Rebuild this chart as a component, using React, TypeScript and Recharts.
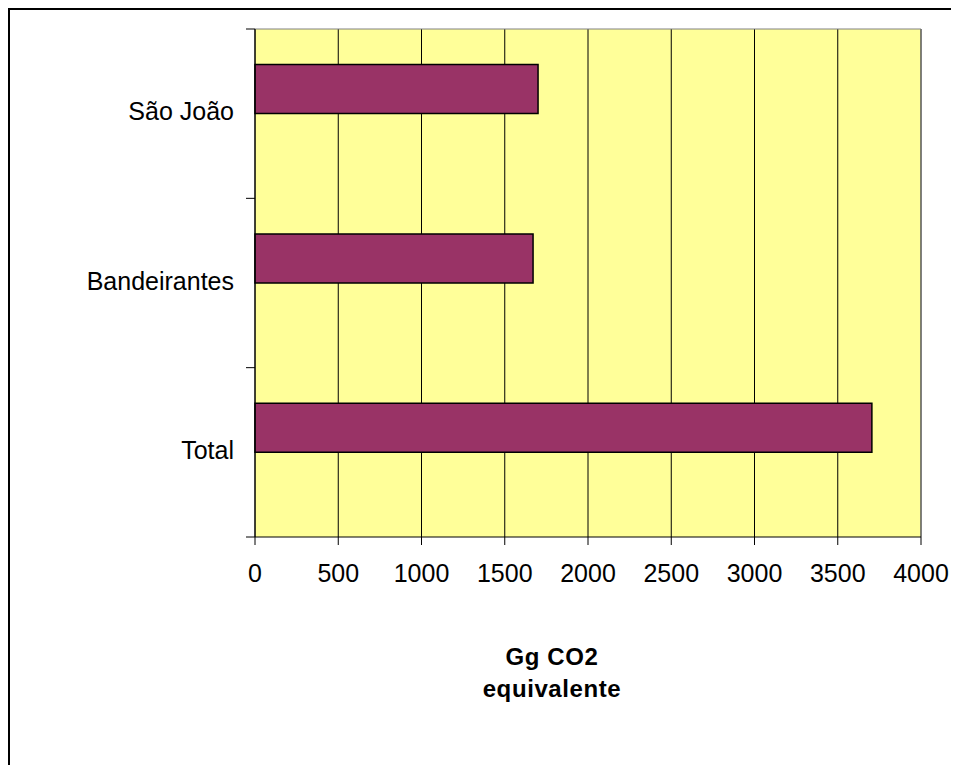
import React from "react";
import {
  BarChart,
  Bar,
  XAxis,
  YAxis,
  CartesianGrid,
  ReferenceLine,
} from "recharts";

// Emission sources, top to bottom
const categories = ["São João", "Bandeirantes", "Total"];
// Emissions in Gg CO2 equivalent
const emissions = [1700, 1670, 3705];
// Value axis ticks
const xTicks = [0, 500, 1000, 1500, 2000, 2500, 3000, 3500, 4000];
const axisTitle = ["Gg CO2", "equivalente"];

const data = categories.map((name, i) => ({
  name,
  value: emissions[i],
  spare: null as number | null,
}));

const FONT = "'Liberation Sans', Arial, sans-serif";
const CHART_W = 951;
const CHART_H = 757;
const MARGIN = { top: 21, right: 38, bottom: 128, left: 0 };
const X_AXIS_H = 100;
const PLOT_H = CHART_H - MARGIN.top - MARGIN.bottom - X_AXIS_H;
const HALF_BAND = PLOT_H / categories.length / 2;
const TICK_LEN = 9;
const TICK_GAP = 12;

// Category label plus tick marks on the band boundaries
const CategoryTick = (props: any) => {
  const { x, y, payload, index } = props;
  const x0 = x + TICK_GAP;
  const isLast = index === categories.length - 1;
  return (
    <g>
      <line x1={x0} x2={x0 + TICK_LEN} y1={y - HALF_BAND} y2={y - HALF_BAND} stroke="#000" strokeWidth={1} />
      {isLast && (
        <line x1={x0} x2={x0 + TICK_LEN} y1={y + HALF_BAND} y2={y + HALF_BAND} stroke="#000" strokeWidth={1} />
      )}
      <text x={x} y={y} dy="0.27em" textAnchor="end" fill="#000" fontSize={25} fontFamily={FONT}>
        {payload.value}
      </text>
    </g>
  );
};

const AxisTitle = (props: any) => {
  const vb = props.viewBox;
  const cx = vb.x + vb.width / 2 - 36;
  return (
    <text textAnchor="middle" fill="#000" fontSize={24} fontWeight="bold" fontFamily={FONT} letterSpacing={0.6}>
      <tspan x={cx} y={vb.y + 128}>{axisTitle[0]}</tspan>
      <tspan x={cx} y={vb.y + 160}>{axisTitle[1]}</tspan>
    </text>
  );
};

export default function App() {
  return (
    <div
      style={{
        position: "relative",
        width: CHART_W,
        height: CHART_H,
        boxSizing: "border-box",
        borderTop: "2px solid #000",
        borderLeft: "2px solid #000",
      }}
    >
      <div style={{ position: "absolute", top: -2, left: -2 }}>
        <BarChart
          width={CHART_W}
          height={CHART_H}
          data={data}
          layout="vertical"
          margin={MARGIN}
          barCategoryGap="21%"
          barGap={0}
        >
          <CartesianGrid
            horizontal={false}
            vertical={true}
            stroke="#000"
            strokeWidth={1}
            fill="#FFFF99"
            fillOpacity={1}
          />
          <XAxis
            type="number"
            domain={[0, 4000]}
            ticks={xTicks}
            interval={0}
            height={X_AXIS_H}
            axisLine={{ stroke: "#000", strokeWidth: 1 }}
            tickLine={{ stroke: "#000", strokeWidth: 1 }}
            tickSize={8}
            tickMargin={19}
            tick={{ fill: "#000", fontSize: 25, fontFamily: FONT }}
            label={<AxisTitle />}
          />
          <YAxis
            type="category"
            dataKey="name"
            width={247}
            interval={0}
            axisLine={{ stroke: "#000", strokeWidth: 1 }}
            tickLine={false}
            tickSize={TICK_LEN}
            tickMargin={TICK_GAP}
            tick={<CategoryTick />}
          />
          <ReferenceLine y={categories[0]} position="start" stroke="#808080" strokeWidth={1} />
          <ReferenceLine x={4000} stroke="#808080" strokeWidth={1} />
          <Bar
            dataKey="value"
            fill="#993366"
            stroke="#000"
            strokeWidth={1.5}
            isAnimationActive={false}
          />
          <Bar
            dataKey="spare"
            fill="none"
            stroke="none"
            isAnimationActive={false}
          />
        </BarChart>
      </div>
    </div>
  );
}
